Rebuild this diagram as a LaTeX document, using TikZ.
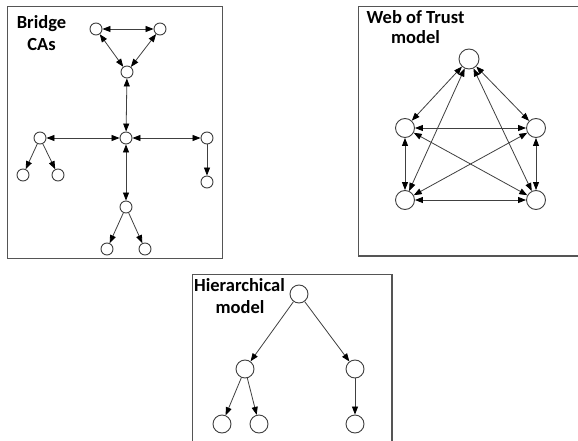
\documentclass[tikz,border=0pt]{standalone}
\usepackage{fontspec}
\setmainfont{Carlito}
\usetikzlibrary{arrows.meta}
\definecolor{edgegray}{HTML}{404040}
\definecolor{boxgray}{HTML}{555555}
\begin{document}
\begin{tikzpicture}[x=1pt,y=-1pt,
  sn/.style={circle,draw=edgegray,line width=0.9pt,fill=white,minimum size=12pt,inner sep=0pt},
  mn/.style={circle,draw=edgegray,line width=0.9pt,fill=white,minimum size=19pt,inner sep=0pt},
  hn/.style={circle,draw=edgegray,line width=0.9pt,fill=white,minimum size=18pt,inner sep=0pt},
  bi/.style={draw=edgegray,line width=0.8pt,{Triangle[length=8pt,width=6pt,color=black]}-{Triangle[length=8pt,width=6pt,color=black]}},
  uni/.style={draw=edgegray,line width=0.8pt,-{Triangle[length=8pt,width=6pt,color=black]}},
  frame/.style={draw=boxgray,line width=1.4pt},
  lbl/.style={font=\bfseries\fontsize{18.5}{22}\selectfont,align=center,inner sep=0pt,text=black}]
\useasboundingbox (0,0) rectangle (578,441);
\fill[white] (0,0) rectangle (578,441);
% frames
\draw[frame] (7.5,6.5) rectangle (222.5,258.5);
\draw[frame] (579,6.5) -- (358.5,6.5) -- (358.5,256) -- (579,256);
\draw[frame] (192.5,443) -- (192.5,274.5) -- (392,274.5) -- (392,443);
% labels
\node[lbl,anchor=base] (lb1) at (41.5,29) {Bridge};
\node[lbl,anchor=base] (lb2) at (41.5,51) {CAs};
\node[lbl,anchor=base] (lw1) at (415.5,24) {Web of Trust};
\node[lbl,anchor=base] (lw2) at (415.5,44) {model};
\node[lbl,anchor=base] (lh1) at (239.5,291) {Hierarchical};
\node[lbl,anchor=base] (lh2) at (240,313) {model};
% Bridge CAs
\node[sn] (t1) at (96,29) {};
\node[sn] (t2) at (160,29) {};
\node[sn] (t3) at (127,72) {};
\node[sn] (c) at (126,138) {};
\node[sn] (l) at (40,138) {};
\node[sn] (r) at (207,138) {};
\node[sn] (l1) at (23,175) {};
\node[sn] (l2) at (58,175) {};
\node[sn] (r1) at (207,182) {};
\node[sn] (b) at (126,207) {};
\node[sn] (b1) at (107,249) {};
\node[sn] (b2) at (145,249) {};
\draw[bi] (t1) -- (t2);
\draw[bi] (t1) -- (t3);
\draw[bi] (t2) -- (t3);
\draw[bi] (t3) -- (c);
\draw[bi] (c) -- (l);
\draw[bi] (c) -- (r);
\draw[bi] (c) -- (b);
\draw[uni] (l) -- (l1);
\draw[uni] (l) -- (l2);
\draw[uni] (r) -- (r1);
\draw[uni] (b) -- (b1);
\draw[uni] (b) -- (b2);
% Web of Trust
\node[mn,minimum size=20pt] (wt) at (469,59) {};
\node[mn] (wl) at (405,128) {};
\node[mn] (wr) at (536,128) {};
\node[mn] (wbl) at (405,200) {};
\node[mn] (wbr) at (536,200) {};
\draw[bi] (wt) -- (wl);
\draw[bi] (wt) -- (wr);
\draw[bi] (wt) -- (wbl);
\draw[bi] (wt) -- (wbr);
\draw[bi] (wl) -- (wr);
\draw[bi] (wl) -- (wbl);
\draw[bi] (wl) -- (wbr);
\draw[bi] (wr) -- (wbl);
\draw[bi] (wr) -- (wbr);
\draw[bi] (wbl) -- (wbr);
% Hierarchical
\node[hn] (h0) at (299,294) {};
\node[hn] (h1) at (245,369) {};
\node[hn] (h2) at (355,369) {};
\node[hn] (h11) at (222,424) {};
\node[hn] (h12) at (259,424) {};
\node[hn] (h21) at (355,424) {};
\draw[uni] (h0) -- (h1);
\draw[uni] (h0) -- (h2);
\draw[uni] (h1) -- (h11);
\draw[uni] (h1) -- (h12);
\draw[uni] (h2) -- (h21);
\end{tikzpicture}
\end{document}
